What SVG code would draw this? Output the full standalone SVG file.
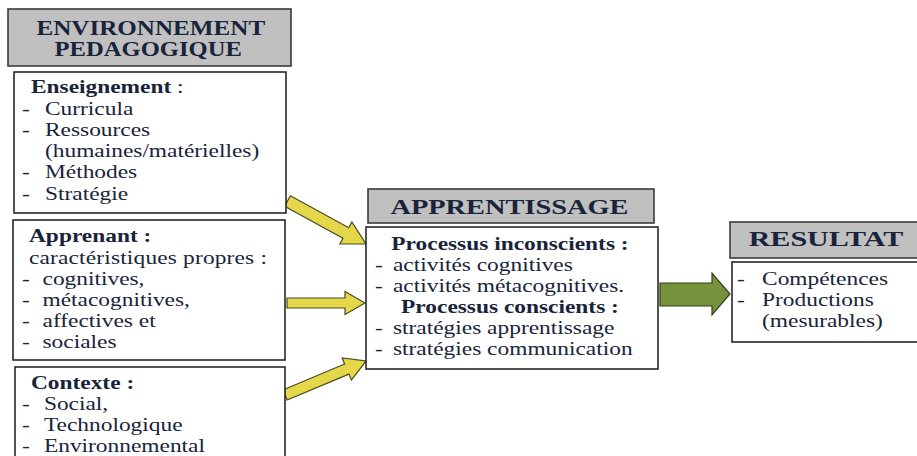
<svg xmlns="http://www.w3.org/2000/svg" width="917" height="456" viewBox="0 0 917 456">
<style>
.hdr{fill:#c0c0c0;stroke:#3a3a3a;stroke-width:1.6}
.box{fill:#ffffff;stroke:#1a1a1a;stroke-width:1.5}
.ya{fill:#e4d84a;stroke:#4a4a22;stroke-width:1.2;stroke-linejoin:miter}
.ga{fill:#76923c;stroke:#2f3d18;stroke-width:1.2}
text{font-family:"Liberation Serif","Times New Roman",serif;fill:#18243a}
.h{font-size:20px;font-weight:bold;text-anchor:middle}
.t{font-size:18px}
.b{font-size:18px;font-weight:bold}
.c{text-anchor:middle}
</style>
<rect width="917" height="456" fill="#ffffff"/>

<g id="connectors">
  <polygon class="ya" transform="translate(287.5,201) rotate(28.7)" points="0,-6 66.5,-6 66.5,-12.5 89.5,0 66.5,12.5 66.5,6 0,6"/>
  <polygon class="ya" points="287,298 345,298 345,291.5 365,303 345,314.5 345,308 287,308"/>
  <polygon class="ya" transform="translate(285,395) rotate(-22.8)" points="0,-5.5 67,-5.5 67,-12 88,0 67,12 67,5.5 0,5.5"/>
  <polygon class="ga" points="660,283 712,283 712,273 730,294 712,315 712,306 660,306"/>
</g>

<g id="env-header">
  <rect class="hdr" x="8" y="9" width="283" height="57"/>
  <g transform="scale(1.3,1)">
    <text class="h" x="116" y="35" textLength="176" lengthAdjust="spacingAndGlyphs">ENVIRONNEMENT</text>
    <text class="h" x="114" y="56" textLength="144" lengthAdjust="spacingAndGlyphs">PEDAGOGIQUE</text>
  </g>
</g>

<g id="enseignement">
  <rect class="box" x="14" y="72" width="272" height="141"/>
  <g transform="scale(1.3,1)">
    <text x="23.8" y="93"><tspan class="b">Enseignement</tspan><tspan class="t"> :</tspan></text>
    <text class="t" x="16.9" y="115">-</text><text class="t" x="34.6" y="115">Curricula</text>
    <text class="t" x="16.9" y="136">-</text><text class="t" x="34.6" y="136">Ressources</text>
    <text class="t" x="34.6" y="157">(humaines/matérielles)</text>
    <text class="t" x="16.9" y="178">-</text><text class="t" x="34.6" y="178">Méthodes</text>
    <text class="t" x="16.9" y="200">-</text><text class="t" x="34.6" y="200">Stratégie</text>
  </g>
</g>

<g id="apprenant">
  <rect class="box" x="13" y="220" width="272" height="140"/>
  <g transform="scale(1.3,1)">
    <text class="b" x="22.3" y="242">Apprenant :</text>
    <text class="t" x="22.3" y="264" textLength="183" lengthAdjust="spacing">caractéristiques propres :</text>
    <text class="t" x="16.9" y="285">-</text><text class="t" x="32.7" y="285">cognitives,</text>
    <text class="t" x="16.9" y="306">-</text><text class="t" x="32.7" y="306">métacognitives,</text>
    <text class="t" x="16.9" y="327">-</text><text class="t" x="32.7" y="327">affectives et</text>
    <text class="t" x="16.9" y="348">-</text><text class="t" x="32.7" y="348">sociales</text>
  </g>
</g>

<g id="contexte">
  <rect class="box" x="15" y="367" width="270" height="100"/>
  <g transform="scale(1.3,1)">
    <text class="b" x="23.8" y="389">Contexte :</text>
    <text class="t" x="16.9" y="410">-</text><text class="t" x="33.8" y="410">Social,</text>
    <text class="t" x="16.9" y="431">-</text><text class="t" x="33.8" y="431">Technologique</text>
    <text class="t" x="16.9" y="452">-</text><text class="t" x="33.8" y="452">Environnemental</text>
  </g>
</g>

<g id="apprentissage-header">
  <rect class="hdr" x="368" y="189" width="286" height="34"/>
  <g transform="scale(1.3,1)">
    <text class="h" x="391.9" y="214" textLength="183" lengthAdjust="spacingAndGlyphs">APPRENTISSAGE</text>
  </g>
</g>

<g id="apprentissage">
  <rect class="box" x="366" y="227" width="292" height="142"/>
  <g transform="scale(1.3,1)">
    <text class="b c" x="392.3" y="250">Processus inconscients :</text>
    <text class="t" x="288.5" y="271">-</text><text class="t" x="302.3" y="271">activités cognitives</text>
    <text class="t" x="288.5" y="292">-</text><text class="t" x="302.3" y="292">activités métacognitives.</text>
    <text class="b c" x="392.3" y="313">Processus conscients :</text>
    <text class="t" x="288.5" y="334">-</text><text class="t" x="302.3" y="334">stratégies apprentissage</text>
    <text class="t" x="288.5" y="355">-</text><text class="t" x="302.3" y="355">stratégies communication</text>
  </g>
</g>

<g id="resultat-header">
  <rect class="hdr" x="730" y="222" width="200" height="36"/>
  <g transform="scale(1.3,1)">
    <text class="h" x="635.4" y="246" textLength="119" lengthAdjust="spacingAndGlyphs">RESULTAT</text>
  </g>
</g>

<g id="resultat">
  <rect class="box" x="732" y="262" width="200" height="80"/>
  <g transform="scale(1.3,1)">
    <text class="t" x="567" y="285">-</text><text class="t" x="586.2" y="285">Compétences</text>
    <text class="t" x="567" y="306">-</text><text class="t" x="586.2" y="306">Productions</text>
    <text class="t" x="586.2" y="327">(mesurables)</text>
  </g>
</g>
</svg>
